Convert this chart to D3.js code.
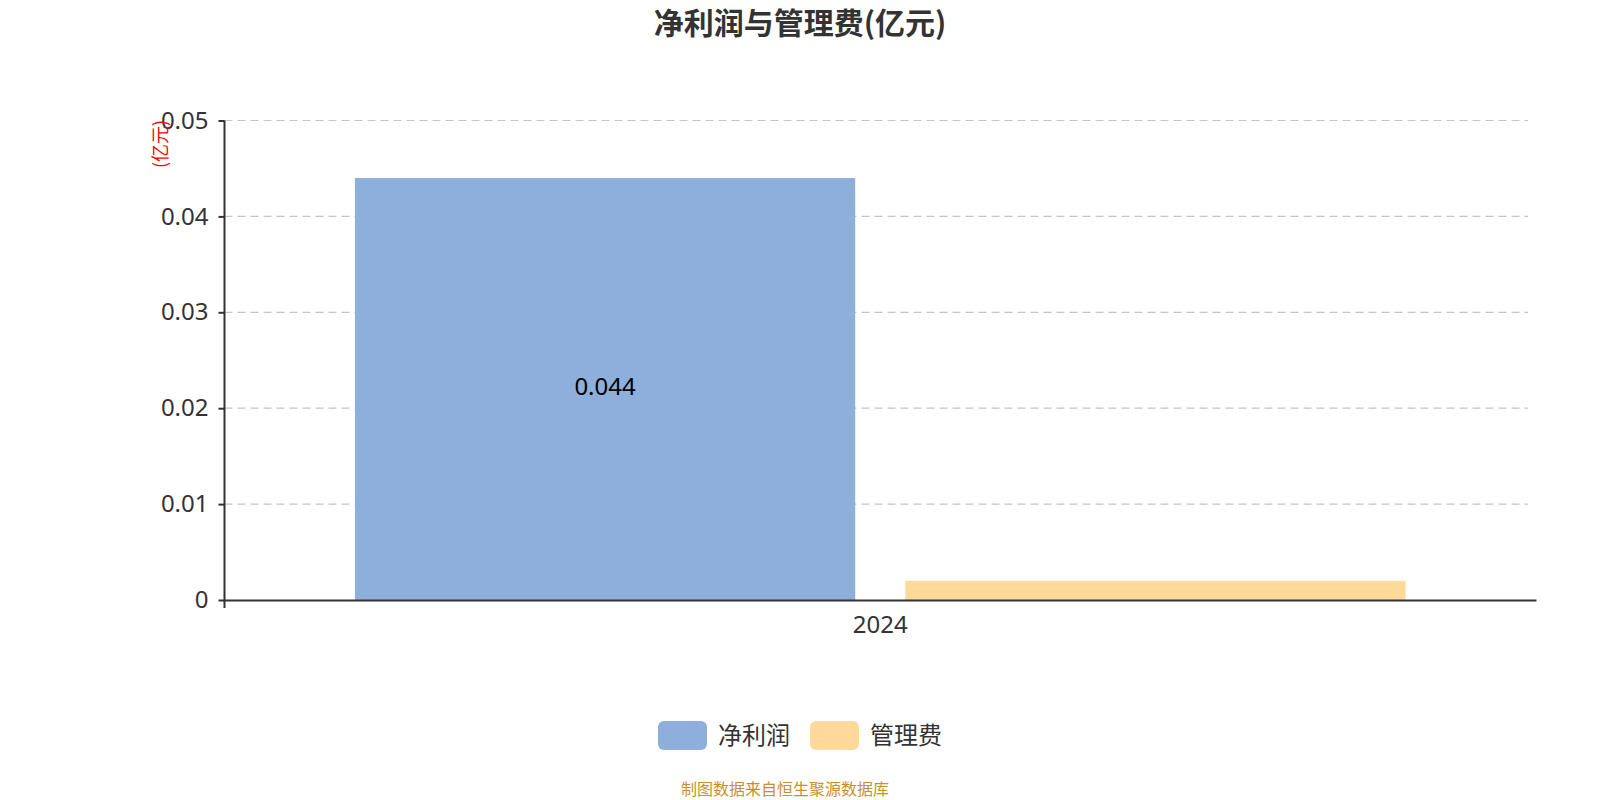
<!DOCTYPE html>
<html>
<head>
<meta charset="UTF-8">
<title>净利润与管理费</title>
<script src="https://cdn.jsdelivr.net/npm/d3@7/dist/d3.min.js"></script>
<style>
  body { margin: 0; background: #fff; }
  text { font-family: "Noto Sans CJK SC", "Noto Sans", sans-serif; }
</style>
</head>
<body>
<svg width="1600" height="800"></svg>
<script>
  // data
  var categories = ["2024"];
  var seriesNames = ["净利润", "管理费"];
  var netProfit = [0.044];
  var mgmtFee = [0.002];
  var yTicks = [0, 0.01, 0.02, 0.03, 0.04, 0.05];
  var colors = ["#8eaedb", "#fed999"];

  var svg = d3.select("svg");
  var margin = {top: 120.5, left: 224.5, right: 64, bottom: 200};
  var width = 1600 - margin.left - margin.right;
  var height = 800 - margin.top - margin.bottom;

  var g = svg.append("g")
    .attr("transform", "translate(" + margin.left + "," + margin.top + ")");

  var x = d3.scaleBand().domain(categories).range([0, width]).paddingInner(0).paddingOuter(0);
  var x1 = d3.scaleBand().domain(seriesNames).range([0, x.bandwidth()]).paddingInner(0.091).paddingOuter(0.237);
  var y = d3.scaleLinear().domain([0, 0.05]).range([height, 0]);

  // grid lines
  g.append("g").selectAll("line")
    .data(yTicks.slice(1))
    .enter().append("line")
    .attr("x1", 0).attr("x2", width - 8)
    .attr("y1", function(d) { return y(d); })
    .attr("y2", function(d) { return y(d); })
    .attr("stroke", "#c4c4c4")
    .attr("stroke-width", 1.2)
    .attr("stroke-dasharray", "8,5");

  // bars
  var rows = categories.map(function(c, i) {
    return [{s: seriesNames[0], v: netProfit[i], c: c}, {s: seriesNames[1], v: mgmtFee[i], c: c}];
  });
  var groups = g.append("g").selectAll("g")
    .data(rows).enter().append("g")
    .attr("transform", function(d) { return "translate(" + x(d[0].c) + ",0)"; });
  groups.selectAll("rect")
    .data(function(d) { return d; })
    .enter().append("rect")
    .attr("x", function(d) { return x1(d.s); })
    .attr("width", x1.bandwidth())
    .attr("y", function(d) { return y(d.v); })
    .attr("height", function(d) { return height - y(d.v); })
    .attr("fill", function(d, i) { return colors[i]; });

  // data label on net profit
  groups.append("text")
    .attr("x", function(d) { return x1(d[0].s) + x1.bandwidth() / 2; })
    .attr("y", function(d) { return (y(d[0].v) + height) / 2 - 2; })
    .attr("dy", "0.35em")
    .attr("text-anchor", "middle")
    .attr("font-size", 24)
    .attr("fill", "#000")
    .style("font-family", "'Noto Sans', sans-serif")
    .text(function(d) { return d[0].v; });

  // y axis
  var yAxis = g.append("g")
    .call(d3.axisLeft(y).tickValues(yTicks).tickSize(6).tickPadding(10)
      .tickFormat(function(d) { return d === 0 ? "0" : d3.format(".2f")(d); }));
  yAxis.select(".domain").attr("stroke", "#333").attr("stroke-width", 2).attr("d", "M0," + height + "V0");
  yAxis.selectAll(".tick line").attr("stroke", "#333").attr("stroke-width", 2);
  yAxis.selectAll(".tick text").attr("font-size", 24).attr("fill", "#333")
    .style("font-family", "'Noto Sans', sans-serif");

  // x axis
  var xAxis = g.append("g")
    .attr("transform", "translate(0," + height + ")")
    .call(d3.axisBottom(x).tickSize(0).tickPadding(16));
  xAxis.select(".domain").attr("stroke", "#333").attr("stroke-width", 2);
  xAxis.selectAll(".tick text").attr("font-size", 24).attr("fill", "#333")
    .style("font-family", "'Noto Sans', sans-serif");
  // tick at axis origin
  g.append("line").attr("x1", 0).attr("x2", 0).attr("y1", height).attr("y2", height + 8)
    .attr("stroke", "#333").attr("stroke-width", 2);

  // unit label
  svg.append("text")
    .attr("transform", "translate(161,144) rotate(-90)")
    .attr("text-anchor", "middle")
    .attr("dy", "0.35em")
    .attr("font-size", 18)
    .attr("fill", "red")
    .text("(亿元)");

  // title
  svg.append("text")
    .attr("x", 800).attr("y", 23)
    .attr("text-anchor", "middle")
    .attr("dy", "0.35em")
    .attr("font-size", 30)
    .attr("font-weight", "bold")
    .attr("fill", "#333")
    .text("净利润与管理费(亿元)");

  // legend
  var legendX = [658, 810];
  var legend = svg.append("g").selectAll("g")
    .data(seriesNames).enter().append("g")
    .attr("transform", function(d, i) { return "translate(" + legendX[i] + ",721)"; });
  legend.append("rect")
    .attr("width", 49).attr("height", 29).attr("rx", 6)
    .attr("fill", function(d, i) { return colors[i]; });
  legend.append("text")
    .attr("x", 60).attr("y", 14.5).attr("dy", "0.35em")
    .attr("font-size", 24).attr("fill", "#333")
    .text(function(d) { return d; });

  // source
  svg.append("text")
    .attr("x", 785).attr("y", 789)
    .attr("text-anchor", "middle")
    .attr("dy", "0.35em")
    .attr("font-size", 16)
    .attr("fill", "#c8902a")
    .text("制图数据来自恒生聚源数据库");
</script>
</body>
</html>
